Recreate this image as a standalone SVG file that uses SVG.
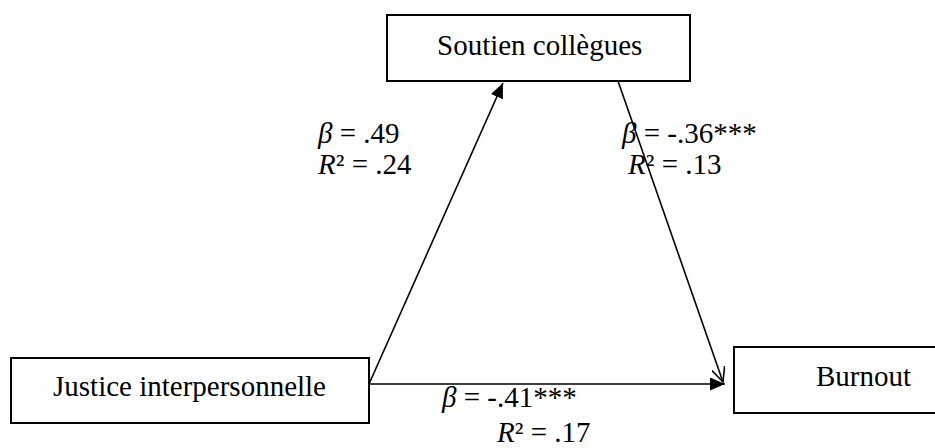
<svg xmlns="http://www.w3.org/2000/svg" width="935" height="448" viewBox="0 0 935 448">
<style>
.box{fill:#fff;stroke:#000;stroke-width:2}
.t{font-family:"Liberation Serif","Times New Roman",serif;font-size:29px;fill:#000}
.i{font-style:italic}
.c{stroke:#000;stroke-width:1.6;fill:none}
</style>
<defs>
<marker id="fill" markerWidth="15" markerHeight="13" refX="15" refY="6.5" orient="auto" markerUnits="userSpaceOnUse">
<path d="M0,0 L15,6.5 L0,13 Z" fill="#000"/>
</marker>
<marker id="open" markerWidth="16" markerHeight="14" refX="15" refY="7" orient="auto" markerUnits="userSpaceOnUse">
<path d="M0,0 L15,7 L0,14" fill="none" stroke="#000" stroke-width="1.6"/>
</marker>
</defs>
<g id="node-soutien">
<rect class="box" x="387" y="15" width="303" height="66"/>
<text class="t" x="437" y="55">Soutien collègues</text>
</g>
<g id="node-justice">
<rect class="box" x="11" y="358" width="358" height="65"/>
<text class="t" x="53" y="396">Justice interpersonnelle</text>
</g>
<g id="node-burnout">
<rect class="box" x="734" y="347" width="210" height="66"/>
<text class="t" x="816" y="386">Burnout</text>
</g>
<g id="connectors">
<line class="c" x1="369" y1="384" x2="503" y2="83" marker-end="url(#fill)"/>
<line class="c" x1="618" y1="81" x2="723" y2="382" marker-end="url(#open)"/>
<line class="c" x1="369" y1="384" x2="725" y2="384" marker-end="url(#fill)"/>
</g>
<g id="labels">
<text class="t" x="318" y="143"><tspan class="i">β</tspan> = .49</text>
<text class="t" x="318" y="174"><tspan class="i">R</tspan>² = .24</text>
<text class="t" x="622" y="143"><tspan class="i">β</tspan> = -.36***</text>
<text class="t" x="628" y="174"><tspan class="i">R</tspan>² = .13</text>
<text class="t" x="442" y="407"><tspan class="i">β</tspan> = -.41***</text>
<text class="t" x="497" y="442"><tspan class="i">R</tspan>² = .17</text>
</g>
</svg>
